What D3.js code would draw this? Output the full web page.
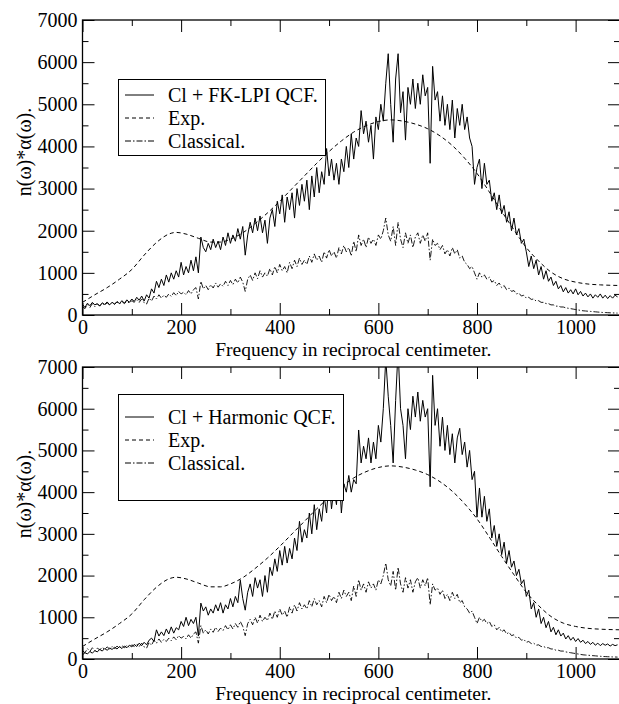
<!DOCTYPE html>
<html>
<head>
<meta charset="utf-8">
<script src="https://cdn.jsdelivr.net/npm/d3@7"></script>
<style>
  html, body { margin: 0; padding: 0; background: #fff; }
  svg { display: block; }
</style>
</head>
<body>
<svg id="chart" width="619" height="704"></svg>
<script>
// ---------------- DATA ----------------
// noisy spectra sampled every 5 cm^-1, starting at 0
const freqStep = 5;

const fkLpiQcf = [
  250,180,280,220,300,240,270,210,290,250,310,240,300,260,320,270,340,280,360,300,
  380,320,420,350,450,330,480,400,620,520,800,650,850,700,950,780,1000,850,1050,900,
  1250,950,1150,1000,1300,1050,1380,1000,1850,1600,1500,1700,1550,1800,1600,1750,1550,1850,1650,1950,
  1700,1900,1750,2050,1800,2100,1420,1900,2200,1950,2300,2000,2350,1950,2250,1700,2300,2500,2100,2700,
  2400,2850,2200,2800,2500,2900,2300,3000,2600,3100,2700,3200,2500,3300,2800,3500,2900,3400,3100,3950,
  3300,3700,3200,3600,3100,3700,3400,4000,3500,4300,3700,4200,4000,4850,4300,4600,4100,4500,3700,4700,
  4400,5000,4600,5500,6200,5000,4100,5600,6200,4800,5300,4150,5400,5000,5600,4900,5500,5000,5700,5200,
  5400,3600,5900,5100,5300,4600,5200,4500,5000,4400,5100,4200,4900,4500,5000,4400,4700,4200,4000,3100,
  3500,3700,3000,3600,3100,3200,2700,2900,2500,2850,2400,2600,2200,2450,2000,2300,1900,2050,1700,1800,
  1500,1150,1400,1100,1300,950,1150,850,1050,800,900,700,800,620,700,550,650,520,600,500,
  620,480,560,450,520,430,500,400,480,420,500,400,470,390,460,400,470,430
];

const harmonicQcf = [
  100,150,120,180,140,200,170,230,190,250,210,260,230,280,240,300,250,310,270,330,
  290,350,300,380,320,400,340,450,500,420,700,550,650,560,720,600,770,620,750,700,
  900,780,1000,800,950,850,1000,550,1340,1150,1250,1050,1200,1100,1300,1150,1350,1100,1300,1200,
  1450,1250,1500,1350,1890,1450,1170,1600,1800,1500,1950,1700,1900,1500,2000,1600,2200,2000,2400,2100,
  2600,2250,2700,2300,2650,2400,2900,2600,3300,2800,3100,2900,3500,3000,3700,3100,3600,3300,3900,3500,
  4300,3600,4100,3700,4500,3500,4200,4000,4400,4000,4300,4200,5490,4700,5100,4800,5300,4700,5200,4800,
  5600,5200,6000,7200,6300,5600,4700,6200,7400,6000,5600,4800,6000,5500,6300,5800,6400,5700,6200,5800,
  6000,4130,6800,5600,6000,5100,5800,5000,5600,4900,5400,4700,5300,5530,4900,5200,4600,5000,4300,4500,
  3400,4100,3400,3900,3300,3600,2900,3200,2700,3000,2500,2800,2300,2600,2200,2350,2000,2150,1800,1900,
  1500,1650,1200,1350,1000,1200,850,1000,750,900,650,760,580,700,550,620,480,560,450,520,
  420,490,400,450,370,420,350,400,330,380,320,370,330,360,310,350,320,340
];

const classical = [
  200,150,250,180,270,200,260,220,280,230,290,240,300,250,310,260,320,270,330,280,
  340,300,360,300,380,290,260,400,330,450,380,480,400,470,420,500,440,530,460,560,
  500,540,480,580,500,600,650,380,800,620,700,600,720,640,760,660,740,680,800,700,
  820,720,850,760,900,780,560,850,950,820,1000,860,1050,900,1000,920,1100,950,1150,1000,
  1200,1050,1150,1000,1250,1100,1300,1150,1350,1200,1300,1200,1400,1250,1450,1300,1400,1250,1500,1350,
  1550,1400,1500,1350,1600,1450,1650,1500,1600,1400,1750,1500,1900,1650,1800,1600,1850,1700,1800,1650,
  1900,1800,2000,2300,1900,1750,2100,1650,2200,1800,1600,1950,1700,1900,1600,1850,1950,1700,1900,1750,
  1950,1300,1800,1650,1700,1550,1650,1450,1550,1400,1600,1450,1550,1350,1400,1250,1200,1100,1150,1000,
  850,1000,900,950,850,900,780,820,700,760,650,700,600,640,560,580,500,520,450,470,
  400,420,370,380,330,340,300,300,270,270,240,240,210,210,190,190,170,160,150,140,
  130,120,110,100,95,90,85,80,75,70,65,60,58,55,52,50,48,45
];

// smooth experimental curve
const expFreq = [0,25,50,75,100,125,150,175,190,210,235,260,280,300,325,350,375,400,425,450,475,500,525,550,575,600,625,650,675,700,725,750,775,800,825,850,875,900,925,950,975,1000,1025,1050,1090];
const expVal  = [300,480,650,850,1080,1420,1720,1920,1960,1920,1820,1730,1730,1800,1950,2170,2420,2700,3000,3300,3600,3880,4130,4340,4490,4590,4630,4600,4530,4420,4250,4020,3720,3360,2920,2460,2020,1600,1280,1020,860,780,735,715,700];

const xTickMajor = [0,200,400,600,800,1000];
const xTickMinor = [100,300,500,700,900];
const yTickMajor = [0,1000,2000,3000,4000,5000,6000,7000];
const yTickMinor = [500,1500,2500,3500,4500,5500,6500];

const xDomain = [0, 1090];
const yDomain = [0, 7000];

const xTitle = "Frequency in reciprocal centimeter.";
const yTitle = "n(\u03C9)*\u03B1(\u03C9).";

const legendNames = ["Exp.", "Classical."];
const topQcfName = "Cl + FK-LPI QCF.";
const bottomQcfName = "Cl + Harmonic QCF.";

// ---------------- DRAWING ----------------
const FONT = "'Liberation Serif', 'Times New Roman', Times, serif";
const svg = d3.select("#chart");
const left = 82.5, right = 620;

const toPts = arr => arr.map((v, i) => [i * freqStep, v]);
const expPts = expFreq.map((f, i) => [f, expVal[i]]);

const dashExp = "4,3";
const dashCls = "6,2,1.5,2";

function txt(sel, size) {
  return sel.style("font-family", FONT).style("font-size", size + "px").attr("fill", "#000");
}

function panel(id, top, bottom, qcf, qcfName, legendBox, rowYs, yLabelY) {
  const x = d3.scaleLinear().domain(xDomain).range([left, right]);
  const y = d3.scaleLinear().domain(yDomain).range([bottom, top]);
  const g = svg.append("g");

  g.append("clipPath").attr("id", id).append("rect")
    .attr("x", left).attr("y", top).attr("width", right - left).attr("height", bottom - top);

  const line = d3.line().x(d => x(d[0])).y(d => y(d[1]));
  const smooth = d3.line().x(d => x(d[0])).y(d => y(d[1])).curve(d3.curveMonotoneX);

  const lines = g.append("g").attr("clip-path", `url(#${id})`);
  lines.append("path").datum(toPts(classical)).attr("d", line)
    .attr("fill", "none").attr("stroke", "#000").attr("stroke-width", 0.9).attr("stroke-dasharray", dashCls);
  lines.append("path").datum(expPts).attr("d", smooth)
    .attr("fill", "none").attr("stroke", "#000").attr("stroke-width", 1).attr("stroke-dasharray", dashExp);
  lines.append("path").datum(toPts(qcf)).attr("d", line)
    .attr("fill", "none").attr("stroke", "#000").attr("stroke-width", 1);

  const styleAxis = sel => {
    sel.select(".domain").remove();
    sel.attr("font-family", null).attr("font-size", null);
    sel.selectAll("line").attr("stroke", "#000").attr("stroke-width", 1);
    txt(sel.selectAll("text"), 20);
  };
  g.append("g").attr("transform", `translate(0,${bottom})`)
    .call(d3.axisBottom(x).tickValues(xTickMajor).tickSize(-12).tickPadding(5).tickFormat(d3.format("d")))
    .call(styleAxis);
  g.append("g").attr("transform", `translate(0,${bottom})`)
    .call(d3.axisBottom(x).tickValues(xTickMinor).tickSize(-6).tickFormat(""))
    .call(styleAxis);
  g.append("g").attr("transform", `translate(0,${top})`)
    .call(d3.axisTop(x).tickValues(xTickMajor).tickSize(-12).tickFormat(""))
    .call(styleAxis);
  g.append("g").attr("transform", `translate(0,${top})`)
    .call(d3.axisTop(x).tickValues(xTickMinor).tickSize(-6).tickFormat(""))
    .call(styleAxis);
  g.append("g").attr("transform", `translate(${left},0)`)
    .call(d3.axisLeft(y).tickValues(yTickMajor).tickSize(-12).tickPadding(5).tickFormat(d3.format("d")))
    .call(styleAxis);
  g.append("g").attr("transform", `translate(${left},0)`)
    .call(d3.axisLeft(y).tickValues(yTickMinor).tickSize(-6).tickFormat(""))
    .call(styleAxis);
  g.append("g").attr("transform", `translate(${right},0)`)
    .call(d3.axisRight(y).tickValues(yTickMajor).tickSize(-12).tickFormat(""))
    .call(styleAxis);
  g.append("g").attr("transform", `translate(${right},0)`)
    .call(d3.axisRight(y).tickValues(yTickMinor).tickSize(-6).tickFormat(""))
    .call(styleAxis);

  g.append("rect").attr("x", left).attr("y", top).attr("width", right - left).attr("height", bottom - top)
    .attr("fill", "none").attr("stroke", "#000").attr("stroke-width", 1.3);

  // titles
  txt(g.append("text").attr("x", (left + right) / 2 + 2).attr("y", bottom + 41)
    .attr("text-anchor", "middle").text(xTitle), 19.5);
  txt(g.append("text").attr("transform", `translate(31,${yLabelY}) rotate(-90)`)
    .attr("text-anchor", "middle").text(yTitle), 20);

  // legend
  const lg = g.append("g");
  lg.append("rect").attr("x", legendBox[0]).attr("y", legendBox[1])
    .attr("width", legendBox[2] - legendBox[0]).attr("height", legendBox[3] - legendBox[1])
    .attr("fill", "#fff").attr("stroke", "#000").attr("stroke-width", 1);
  const items = [
    { name: qcfName, dash: null },
    { name: legendNames[0], dash: dashExp },
    { name: legendNames[1], dash: dashCls }
  ];
  items.forEach((it, i) => {
    const ry = rowYs[i];
    const l = lg.append("line").attr("x1", 125).attr("x2", 154).attr("y1", ry).attr("y2", ry)
      .attr("stroke", "#000").attr("stroke-width", 1);
    if (it.dash) l.attr("stroke-dasharray", it.dash);
    txt(lg.append("text").attr("x", 168).attr("y", ry + 6.5).text(it.name), 20);
  });
}

panel("clipTop", 20, 315, fkLpiQcf, topQcfName, [118.5, 79.5, 325.5, 155.5], [95, 118, 141], 152);
panel("clipBot", 367, 659, harmonicQcf, bottomQcfName, [118.5, 394.5, 343.5, 500.5], [417, 440, 463], 494);
</script>
</body>
</html>
